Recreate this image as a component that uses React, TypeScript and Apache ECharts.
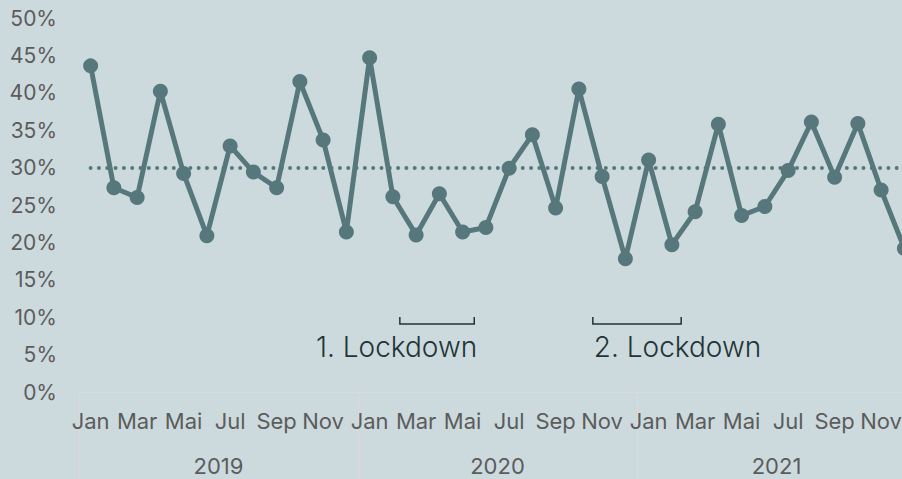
import React, { useEffect, useRef } from "react";
import * as echarts from "echarts";

const years = ["2019", "2020", "2021"];
const monthNames = ["Jan", "Feb", "Mar", "Apr", "Mai", "Jun", "Jul", "Aug", "Sep", "Okt", "Nov", "Dez"];
const categories = years.flatMap((y) => monthNames.map((m) => `${m} ${y}`));

const values2019 = [43.6, 27.3, 26.0, 40.2, 29.2, 20.9, 32.9, 29.4, 27.3, 41.5, 33.7, 21.4];
const values2020 = [44.7, 26.1, 21.0, 26.5, 21.4, 22.0, 29.9, 34.4, 24.6, 40.5, 28.8, 17.8];
const values2021 = [31.0, 19.7, 24.1, 35.8, 23.6, 24.8, 29.6, 36.1, 28.7, 35.9, 27.0, 19.2];
const values = [...values2019, ...values2020, ...values2021];

const referenceValue = 30;

const lockdownLabels = ["1. Lockdown", "2. Lockdown"];
const lockdownStart = [13.3, 21.6];
const lockdownEnd = [16.5, 25.4];
const lockdownAlign = ["right", "left"];

const FONT = "Inter";
const BG = "#ccdadd";
const LINE = "#56787d";
const DARK = "#1f3538";
const GRAY = "#5c5c5c";
const RULE = "#dadada";

export default function App() {
  const ref = useRef<HTMLDivElement>(null);

  useEffect(() => {
    if (!ref.current) return;
    const chart = echarts.init(ref.current, null, { renderer: "svg" });
    const bracketData = lockdownLabels.map((l, i) => [lockdownStart[i], lockdownEnd[i], i]);

    chart.setOption({
      animation: false,
      backgroundColor: BG,
      textStyle: { fontFamily: FONT },
      grid: { left: 79, right: 0, top: 18, bottom: 87, containLabel: false },
      xAxis: [
        {
          type: "category",
          data: categories,
          boundaryGap: true,
          axisLine: { show: true, lineStyle: { color: RULE, width: 1 } },
          axisTick: {
            show: true,
            interval: (i: number) => i % 12 === 0,
            length: 95,
            lineStyle: { color: RULE, width: 1 },
          },
          axisLabel: {
            interval: 1,
            margin: 18,
            color: GRAY,
            fontSize: 22,
            fontFamily: FONT,
            formatter: (v: string) => v.split(" ")[0],
          },
          splitLine: { show: false },
        },
        {
          type: "category",
          data: years,
          position: "bottom",
          offset: 51,
          axisLine: { show: false },
          axisTick: { show: false },
          axisLabel: { color: GRAY, fontSize: 22, fontFamily: FONT, margin: 12 },
        },
        {
          type: "value",
          min: -0.5,
          max: 35.5,
          show: false,
        },
      ],
      yAxis: {
        type: "value",
        min: 0,
        max: 50,
        interval: 5,
        axisLine: { show: false },
        axisTick: { show: false },
        splitLine: { show: false },
        axisLabel: {
          formatter: "{value}%",
          color: GRAY,
          fontSize: 21,
          fontFamily: FONT,
          margin: 22,
        },
      },
      series: [
        {
          type: "line",
          xAxisIndex: 0,
          data: values,
          symbol: "circle",
          symbolSize: 15,
          lineStyle: { color: LINE, width: 5 },
          itemStyle: { color: LINE },
          z: 3,
          markLine: {
            silent: true,
            symbol: "none",
            label: { show: false },
            lineStyle: { color: LINE, width: 4, type: [0.01, 8.3], cap: "round" },
            data: [[{ coord: [0, referenceValue] }, { coord: [35, referenceValue] }]],
          },
        },
        {
          type: "custom",
          xAxisIndex: 2,
          yAxisIndex: 0,
          data: bracketData,
          silent: true,
          z: 4,
          renderItem: (params: any, api: any) => {
            const s = api.coord([api.value(0), 9.1]);
            const e = api.coord([api.value(1), 9.1]);
            const idx = api.value(2);
            const top = s[1] - 7;
            const align = lockdownAlign[idx];
            return {
              type: "group",
              children: [
                {
                  type: "polyline",
                  shape: { points: [[s[0], top], [s[0], s[1]], [e[0], e[1]], [e[0], top]] },
                  style: { stroke: DARK, lineWidth: 1.5, fill: "none" },
                },
                {
                  type: "text",
                  x: align === "right" ? e[0] + 3 : s[0] + 1,
                  y: s[1] + 37,
                  style: {
                    text: lockdownLabels[idx],
                    fill: DARK,
                    font: `300 28px ${FONT}`,
                    textAlign: align,
                    textVerticalAlign: "bottom",
                  },
                },
              ],
            };
          },
        },
      ],
    });
    return () => chart.dispose();
  }, []);

  return (
    <div style={{ position: "absolute", left: 0, top: 0, width: 902, height: 479, overflow: "hidden" }}>
      <div ref={ref} style={{ width: 916, height: 479 }} />
    </div>
  );
}
